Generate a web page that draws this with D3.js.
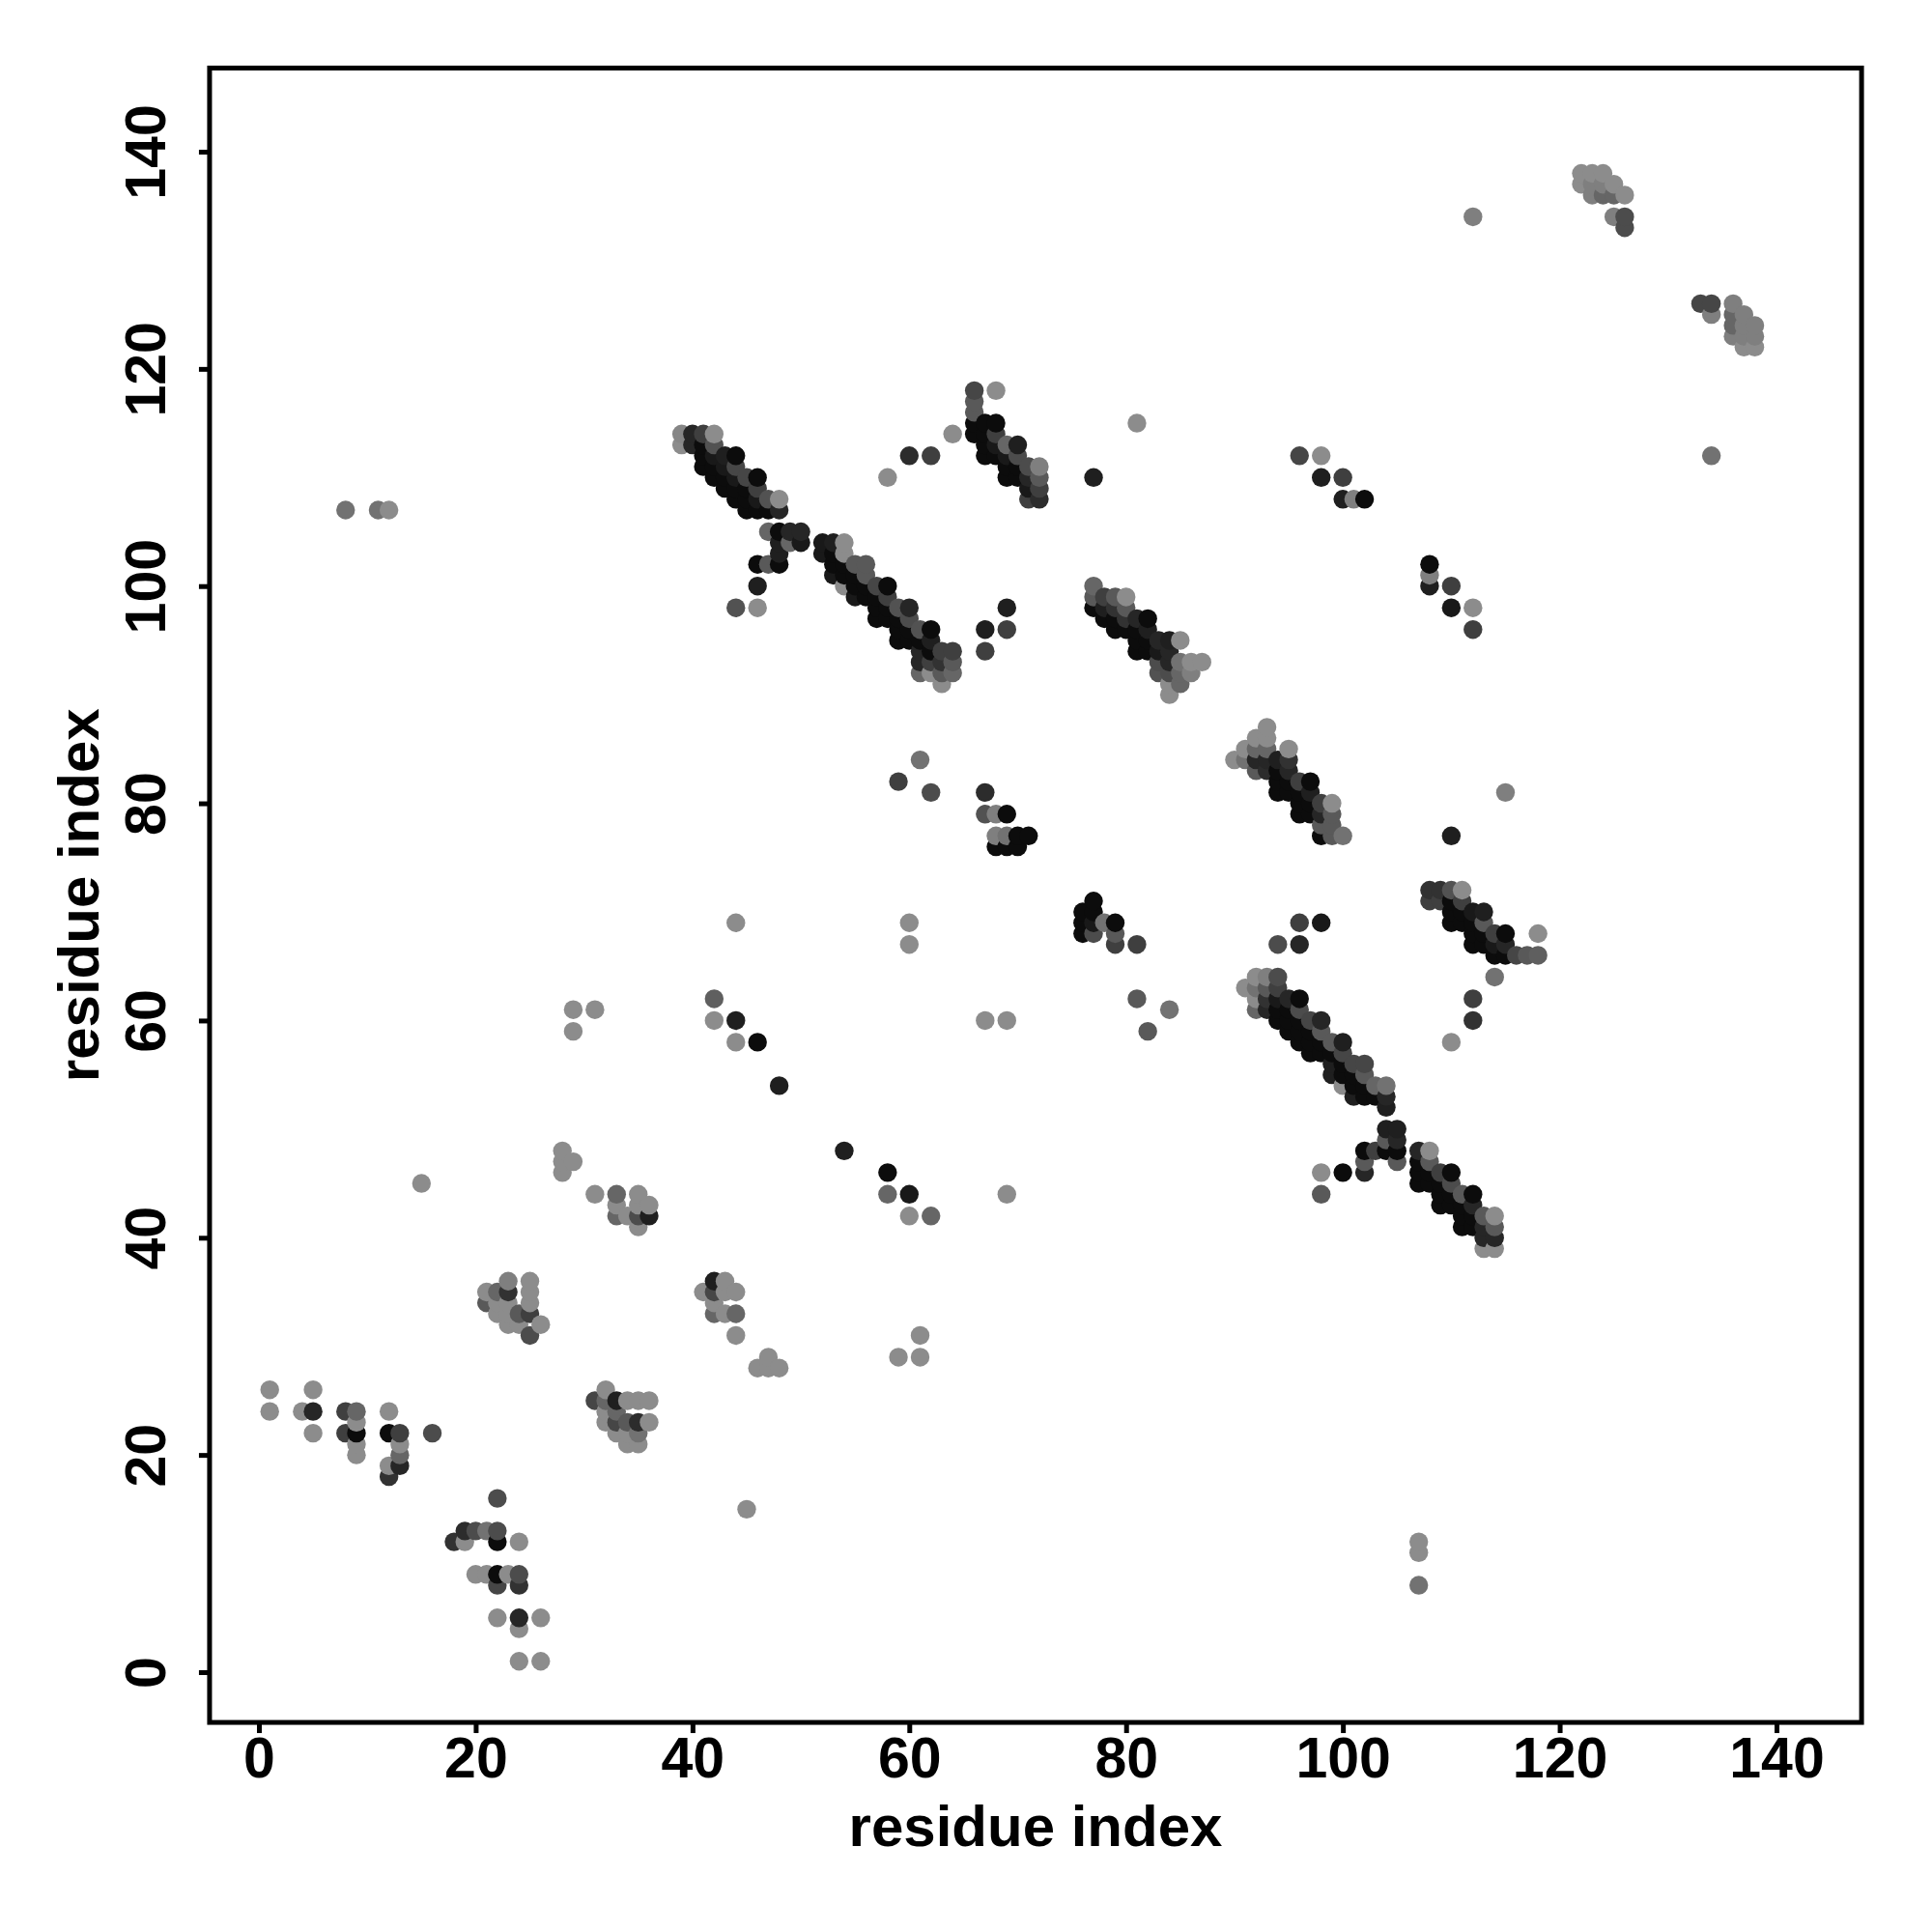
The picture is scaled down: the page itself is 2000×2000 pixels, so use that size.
<!DOCTYPE html>
<html><head><meta charset="utf-8">
<script src="https://cdn.jsdelivr.net/npm/d3@7"></script>
<style>
body{margin:0;background:#fff;}
text{font-family:'Liberation Sans',Arial,Helvetica,sans-serif;font-weight:bold;fill:#000;}
</style>
</head><body>
<svg id="chart" width="2000" height="2000"></svg>
<script>
// ---- tick labels / titles ----
const xTicks = [0, 20, 40, 60, 80, 100, 120, 140];
const yTicks = [0, 20, 40, 60, 80, 100, 120, 140];
const xTitle = "residue index";
const yTitle = "residue index";

// ---- contacts: [residue i, residue j, contact strength 0..1] ----
const clusterN = [
[1,26,0],[5,26,0],[1,24,0],[4,24,0],[5,24,.8],[8,24,.6],[9,24,.3],[12,24,0],
[9,23,0],[5,22,0],[8,22,.6],[9,22,1],[12,22,1],[13,22,.6],[16,22,.5],
[9,21,0],[13,21,0],[9,20,0],[13,20,.3],[12,19,0],[13,19,.8],[12,18,.7],
[22,16,.5],[19,13,.75],[20,13,.5],[21,13,.2],[22,13,.5],[18,12,.7],[19,12,0],[22,12,1],[24,12,0],
[20,9,0],[21,9,0],[22,9,1],[23,9,0],[24,9,.5],[22,8,.55],[24,8,.7],
[22,5,0],[24,5,.8],[26,5,0],[24,4,0],[24,1,0],[26,1,0]
];
const clusterB = [
[23,36,.1],[25,36,0],[21,35,0],[22,35,.3],[23,35,.7],[25,35,0],[21,34,.4],[22,34,0],[23,34,0],[25,34,0],
[22,33,0],[23,33,0],[24,33,.4],[25,33,.6],[23,32,0],[24,32,0],[26,32,0],[25,31,.5]
];
const clusterC = [
[28,48,0],[28,47,0],[29,47,0],[28,46,0],[15,45,0],
[31,44,0],[33,44,.3],[35,44,0],[33,43,0],[33,42,.3],[34,42,0],[35,43,0],[35,42,.5],[36,43,0],[36,42,.85],[35,41,0],
[42,36,.85],[43,36,0],[41,35,0],[42,35,.55],[43,35,0],[44,35,0],[42,34,0],[42,33,.3],[43,33,0],[44,33,.3],[44,31,0],
[47,29,0],[46,28,0],[47,28,0],[48,28,0],[45,15,0],
[32,26,0],[31,25,.55],[32,25,.3],[33,25,.85],[34,25,0],[35,25,0],[36,25,0],[32,24,0],[33,24,.3],
[32,23,0],[33,23,.55],[34,23,.4],[35,23,.75],[36,23,0],[33,22,0],[34,22,0],[35,22,.2],[34,21,0],[35,21,0]
];
const scatterA = [
[8,107,.2],[11,107,.2],[12,107,0],[44,69,0],[29,61,0],[31,61,0],[29,59,0],
[42,62,.35],[42,60,0],[44,60,.85],[44,58,0],[46,58,1],[48,54,.85],
[58,110,0],[60,112,.75],[62,112,.6],[64,114,0]
];
const band1 = [
[39,114,.05],[40,114,.8],[41,114,.6],[42,114,0],
[39,113,0],[40,113,.8],[41,113,1],[42,113,.45],
[41,112,1],[42,112,.9],[43,112,.85],[44,112,1],
[41,111,1],[42,111,1],[43,111,.9],[44,111,.55],
[42,110,1],[43,110,1],[44,110,.9],[45,110,.55],[46,110,1],
[43,109,1],[44,109,1],[45,109,1],[46,109,.6],
[44,108,1],[45,108,1],[46,108,.9],[47,108,.45],[48,108,0],
[45,107,1],[46,107,1],[47,107,1],[48,107,.8],
[47,105,.3],[48,105,1],[49,105,.8],[50,105,.8],[48,104,.85],[49,104,.3],[50,104,.9],[48,103,.85],
[46,102,1],[47,102,.4],[48,102,1],[46,100,.85],[44,98,.45],[46,98,0],
[52,104,.9],[53,104,.85],[54,104,0],
[52,103,.9],[53,103,1],[54,103,0],
[53,102,1],[54,102,1],[55,102,.4],[56,102,.4],
[53,101,.9],[54,101,1],[55,101,1],[56,101,.4],
[54,100,0],[55,100,1],[56,100,1],[57,100,.55],[58,100,1],
[55,99,.9],[56,99,1],[57,99,1],[58,99,.6],
[57,98,1],[58,98,1],[59,98,.45],[60,98,.8],
[57,97,1],[58,97,1],[59,97,1],[60,97,.5],
[59,96,1],[60,96,1],[61,96,.45],[62,96,1],
[59,95,1],[60,95,1],[61,95,1],[62,95,.85],
[61,94,.8],[62,94,1],[63,94,.6],[64,94,.6],
[61,93,.8],[62,93,.6],[63,93,.7],[64,93,.4],
[61,92,.3],[62,92,0],[63,92,.4],[64,92,.3],[63,91,0]
];
const cluster66 = [
[66,118,.55],[68,118,0],[66,117,.4],[66,116,.4],[66,115,1],[67,115,1],[68,115,1],
[66,114,1],[67,114,1],[68,114,.6],[67,113,1],[68,113,.9],[69,113,.3],[70,113,.85],
[67,112,1],[68,112,1],[69,112,.9],[70,112,.5],[69,111,1],[70,111,1],[71,111,.5],[72,111,.1],
[69,110,1],[70,110,1],[71,110,.8],[72,110,.4],[71,109,.9],[72,109,.6],[71,108,.6],[72,108,.75],
[81,115,0],[77,110,.85],[69,98,.85],[67,96,.85],[69,96,.6],[67,94,.6]
];
const band2 = [
[77,100,.3],[77,99,.4],[78,99,.6],[79,99,.4],[80,99,0],
[77,98,1],[78,98,.85],[79,98,.7],[80,98,.4],
[78,97,1],[79,97,1],[80,97,.7],[81,97,.8],[82,97,1],
[79,96,1],[80,96,1],[81,96,1],[82,96,.85],
[81,95,1],[82,95,1],[83,95,.8],[84,95,.85],[85,95,0],
[81,94,1],[82,94,1],[83,94,.9],[84,94,.8],
[83,93,.5],[84,93,.8],[85,93,.2],[86,93,0],[87,93,0],
[83,92,.45],[84,92,.5],[85,92,.3],[86,92,.1],[84,91,0],[85,91,.3],[84,90,0]
];
const scatterB = [
[76,70,1],[77,71,1],[77,70,1],[76,69,1],[77,69,.9],[76,68,1],[77,68,.5],[78,69,.2],[79,69,1],[79,68,.4],[79,67,.6],[81,67,.6],
[67,81,.75],[67,79,.45],[68,79,.1],[69,79,1],[68,77,.1],[69,77,.2],[70,77,1],[71,77,1],[68,76,1],[69,76,1],[70,76,1],
[59,82,.6],[61,84,.2],[62,81,.5],
[60,69,0],[60,67,0],[67,60,0],[69,60,0],[81,62,.4],[84,61,.2],[82,59,.4],
[54,48,.85],[58,46,1],[58,44,.3],[60,44,.9],[69,44,0],[60,42,0],[62,42,.3],
[61,31,0],[59,29,0],[61,29,0]
];
const band3 = [
[93,87,0],[92,86,0],[93,86,0],[91,85,0],[92,85,.3],[93,85,.3],[95,85,0],
[90,84,0],[91,84,.2],[92,84,.8],[93,84,.8],[94,84,.85],[95,84,.7],
[92,83,.4],[93,83,.75],[94,83,1],[95,83,.8],
[94,82,1],[95,82,1],[96,82,.6],[97,82,1],
[94,81,1],[95,81,1],[96,81,1],[97,81,.85],
[96,80,1],[97,80,1],[98,80,.6],[99,80,0],
[96,79,1],[97,79,1],[98,79,.8],[99,79,.4],
[98,78,.4],[99,78,.4],[98,77,1],[99,77,.4],[100,77,.2],
[96,112,.55],[98,112,0],[98,110,.85],[100,110,.6],[100,108,.85],[101,108,.1],[102,108,1]
];
const band4 = [
[96,69,.6],[98,69,.9],[94,67,.5],[96,67,.8],
[92,64,0],[93,64,.1],[94,64,.5],
[91,63,0],[92,63,.2],[93,63,.4],[94,63,.6],
[92,62,0],[93,62,.7],[94,62,.9],[95,62,.8],[96,62,1],
[92,61,.3],[93,61,.8],[94,61,1],[95,61,1],[96,61,.5],
[94,60,1],[95,60,1],[96,60,1],[97,60,.55],[98,60,.8],
[95,59,1],[96,59,1],[97,59,1],[98,59,.4],
[96,58,1],[97,58,1],[98,58,1],[99,58,.4],[100,58,.85],
[97,57,1],[98,57,1],[99,57,1],[100,57,.55],
[99,56,.85],[100,56,1],[101,56,.55],[102,56,.55],
[99,55,.85],[100,55,1],[101,55,1],[102,55,.4],
[100,54,0],[101,54,1],[102,54,1],[103,54,.3],[104,54,.2],
[101,53,.85],[102,53,1],[103,53,1],[104,53,.8],
[104,52,.85],[104,50,.85],[105,50,.85],[104,49,.4],[105,49,.8],
[102,48,1],[103,48,.6],[104,48,1],[105,48,1],[102,47,.4],[105,47,.4],
[100,46,1],[102,46,.8],[98,46,0],[98,44,.4]
];
const band5 = [
[107,48,.8],[108,48,0],[107,47,1],[108,47,.4],
[107,46,1],[108,46,1],[109,46,.6],[110,46,1],
[107,45,1],[108,45,1],[109,45,1],[110,45,.5],
[109,44,1],[110,44,1],[111,44,.4],[112,44,1],
[109,43,1],[110,43,1],[111,43,1],[112,43,.8],
[111,42,1],[112,42,1],[113,42,.4],[114,42,0],
[111,41,1],[112,41,1],[113,41,.8],[114,41,.4],
[113,40,.8],[114,40,.8],[113,39,0],[114,39,0],
[107,12,0],[107,11,0],[107,8,.2]
];
const band6 = [
[108,72,.7],[109,72,.7],[110,72,.45],[111,72,0],
[108,71,.6],[109,71,.6],[110,71,1],[111,71,.6],
[110,70,1],[111,70,1],[112,70,.9],[113,70,.85],
[110,69,1],[111,69,1],[112,69,1],[113,69,.4],
[112,68,1],[113,68,1],[114,68,.6],[115,68,1],[118,68,0],
[112,67,1],[113,67,1],[114,67,.9],[115,67,.8],
[114,66,1],[115,66,1],[116,66,.55],[117,66,.4],[118,66,.35],
[114,64,.2],[112,62,.6],[112,60,.7],[110,58,0],
[108,102,1],[108,101,.1],[108,100,.85],[110,100,.6],[110,98,.9],[112,98,0],[112,96,.6],
[115,81,.1],[110,77,.85]
];
const clusterTop = [
[122,138,0],[123,138,0],[124,138,0],
[122,137,0],[123,137,.1],[124,137,.1],[125,137,0],
[123,136,.1],[124,136,.3],[125,136,.3],[126,136,0],
[125,134,.1],[126,134,.5],[126,133,.5],[112,134,.1],
[133,126,.55],[134,126,.55],[136,126,.1],[134,125,.1],[136,125,.3],[137,125,.1],
[136,124,.3],[137,124,.1],[138,124,.1],[136,123,.1],[137,123,.1],[138,123,.1],
[137,122,0],[138,122,0],[134,112,.2]
];

const contacts = [].concat(clusterN, clusterB, clusterC, scatterA, band1, cluster66,
  band2, scatterB, band3, band4, band5, band6, clusterTop)
  .sort((a, b) => a[0] - b[0] || a[1] - b[1]);

// ---- layout ----
const svg = d3.select("#chart");
svg.append("rect").attr("width", 2000).attr("height", 2000).attr("fill", "#fff");

const x = d3.scaleLinear().domain([0, 140]).range([268, 1839]);
const y = d3.scaleLinear().domain([0, 140]).range([1731, 157]);
const xLim = [-4.55, 147.85], yLim = [-4.63, 147.7];
const shade = d3.scaleLinear().domain([0, 1]).range(["#8c8c8c", "#0c0c0c"]);

svg.append("g").selectAll("circle").data(contacts).join("circle")
  .attr("cx", d => x(d[0])).attr("cy", d => y(d[1]))
  .attr("r", 9.7).attr("fill", d => shade(d[2]));

const boxL = x(xLim[0]), boxR = x(xLim[1]), boxT = y(yLim[1]), boxB = y(yLim[0]);
svg.append("rect").attr("x", boxL).attr("y", boxT)
  .attr("width", boxR - boxL).attr("height", boxB - boxT)
  .attr("fill", "none").attr("stroke", "#000").attr("stroke-width", 5);

const fs = 59;
const gx = svg.append("g").attr("transform", `translate(0,${boxB})`)
  .call(d3.axisBottom(x).tickValues(xTicks).tickSize(11).tickSizeOuter(0).tickPadding(4));
gx.select(".domain").remove();
gx.selectAll("line").attr("stroke", "#000").attr("stroke-width", 5);
gx.selectAll("text").style("font-size", fs + "px").style("font-weight", "bold")
  .style("font-family", "'Liberation Sans',Arial,sans-serif").attr("fill", "#000");

const gy = svg.append("g").attr("transform", `translate(${boxL},0)`)
  .call(d3.axisLeft(y).tickValues(yTicks).tickSize(11).tickSizeOuter(0));
gy.select(".domain").remove();
gy.selectAll("line").attr("stroke", "#000").attr("stroke-width", 5);
gy.selectAll("text")
  .attr("x", null).attr("dy", null).attr("y", null)
  .attr("transform", "translate(-46,0) rotate(-90)")
  .attr("text-anchor", "middle")
  .style("font-size", fs + "px").style("font-weight", "bold")
  .style("font-family", "'Liberation Sans',Arial,sans-serif").attr("fill", "#000");

svg.append("text").attr("x", (boxL + boxR) / 2).attr("y", 1911)
  .attr("text-anchor", "middle").style("font-size", "60px").text(xTitle);
svg.append("text").attr("transform", `translate(102,${(boxT + boxB) / 2}) rotate(-90)`)
  .attr("text-anchor", "middle").style("font-size", "60px").text(yTitle);
</script>
</body></html>
